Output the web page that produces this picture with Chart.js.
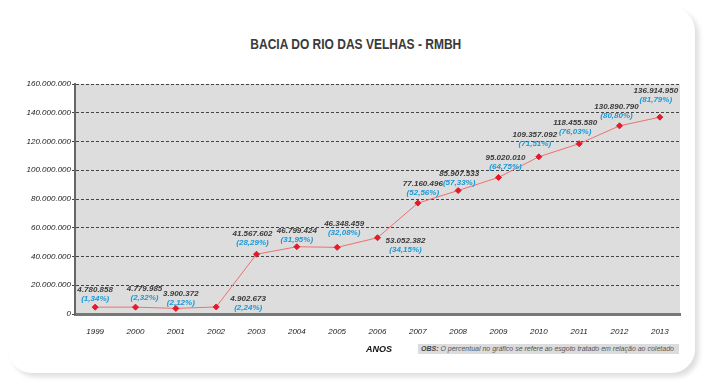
<!DOCTYPE html>
<html>
<head>
<meta charset="utf-8">
<script src="https://cdn.jsdelivr.net/npm/chart.js@4.4.0/dist/chart.umd.min.js"></script>
<style>
  html, body { margin: 0; padding: 0; background: #fff; width: 710px; height: 386px; overflow: hidden; }
  .card { position: absolute; left: 8px; top: 7px; width: 687px; height: 366px; background: #fff;
    border-radius: 24px; box-shadow: 4px 4px 5px rgba(0,0,0,0.13); }
  #chart { position: absolute; left: 0; top: 0; }
  .title { position: absolute; left: 0; width: 712px; top: 35px; text-align: center; }
  .title span { display: inline-block; transform: scaleX(0.8); transform-origin: center;
    font: bold 15px "Liberation Sans", Arial, sans-serif; color: #3a3a3a; white-space: nowrap; }
  .anos { position: absolute; left: 366px; top: 344px; font: italic bold 9px "Liberation Sans", Arial, sans-serif; color: #111; }
  .obs { position: absolute; left: 418px; top: 344px; width: 261px; height: 10px; background: #dcdcdc;
    font: italic 7px "Liberation Sans", Arial, sans-serif; color: #555; line-height: 10px; padding-left: 3px; box-sizing: border-box; white-space: nowrap; }
  .obs b { color: #444; }
</style>
</head>
<body>
<div class="card"></div>
<div class="title"><span>BACIA DO RIO DAS VELHAS - RMBH</span></div>
<canvas id="chart" width="710" height="386"></canvas>
<div class="anos">ANOS</div>
<div class="obs"><b>OBS:</b> O percentual no gráfico se refere ao esgoto tratado em relação ao coletado</div>
<script>
const years = ['1999','2000','2001','2002','2003','2004','2005','2006','2007','2008','2009','2010','2011','2012','2013'];
const volumes = [4780858, 4779985, 3900372, 4902673, 41567602, 46799424, 46348459, 53052382,
  77160496, 85907533, 95020010, 109357092, 118455580, 130890790, 136914950];
const percents = ['1,34', '2,32', '2,12', '2,24', '28,29', '31,95', '32,08', '34,15',
  '52,56', '57,33', '64,75', '71,51', '76,03', '80,80', '81,79'];
const yTicks = [0, 20000000, 40000000, 60000000, 80000000, 100000000, 120000000, 140000000, 160000000];

// where each value label sits relative to its point [dx, dy]
const labelOffsets = [[0,-17],[9,-18],[5,-15],[32,-8],[-4,-20],[0,-16],[7,-24],[28,3],
  [5,-19],[1,-17],[7,-20],[-4,-22],[-4,-21],[-3,-19],[-4,-26]];

function fmt(n) { return String(n).replace(/\B(?=(\d{3})+(?!\d))/g, '.'); }

const plotBg = {
  id: 'plotBg',
  beforeDraw(chart) {
    const a = chart.chartArea, ctx = chart.ctx;
    ctx.save();
    ctx.fillStyle = '#dcdddc';
    ctx.fillRect(a.left, a.top, a.right - a.left, a.bottom - a.top);
    ctx.restore();
  }
};

const pointLabels = {
  id: 'pointLabels',
  afterDatasetsDraw(chart) {
    const ctx = chart.ctx;
    const meta = chart.getDatasetMeta(0);
    ctx.save();
    ctx.textAlign = 'center';
    ctx.textBaseline = 'middle';
    meta.data.forEach((pt, i) => {
      const [dx, dy] = labelOffsets[i];
      ctx.font = 'italic bold 8px "Liberation Sans", Arial, sans-serif';
      ctx.fillStyle = '#3a3a3a';
      ctx.fillText(fmt(volumes[i]), pt.x + dx, pt.y + dy);
      ctx.fillStyle = '#1b9ad8';
      ctx.fillText('(' + percents[i] + '%)', pt.x + dx, pt.y + dy + 9);
    });
    ctx.restore();
  }
};

new Chart(document.getElementById('chart').getContext('2d'), {
  type: 'line',
  data: {
    labels: years,
    datasets: [{
      data: volumes,
      borderColor: '#f07070',
      borderWidth: 1,
      tension: 0,
      pointStyle: 'rectRot',
      pointRadius: 3,
      pointBackgroundColor: '#e6182a',
      pointBorderColor: '#e6182a',
      pointBorderWidth: 1
    }]
  },
  options: {
    responsive: false,
    animation: false,
    layout: { padding: { left: 0, right: 30, top: 84, bottom: 0 } },
    plugins: { legend: { display: false }, tooltip: { enabled: false }, title: { display: false } },
    scales: {
      x: {
        offset: true,
        grid: { display: false },
        border: { display: true, color: '#777', width: 3 },
        ticks: { color: '#222', padding: 5, font: { family: '"Liberation Sans", Arial', size: 8, style: 'italic' } },
        afterFit(scale) { scale.height = 72; }
      },
      y: {
        min: 0, max: 160000000,
        afterBuildTicks(scale) { scale.ticks = yTicks.map(v => ({ value: v })); },
        grid: { color: '#444', tickLength: 3, tickColor: '#444', tickBorderDash: [] },
        border: { display: true, color: '#666', width: 2, dash: [3, 2] },
        ticks: { color: '#222', padding: 1, callback: v => fmt(v),
          font: { family: '"Liberation Sans", Arial', size: 8, style: 'italic' } },
        afterFit(scale) { scale.width = 75; }
      }
    }
  },
  plugins: [plotBg, pointLabels]
});
</script>
</body>
</html>
